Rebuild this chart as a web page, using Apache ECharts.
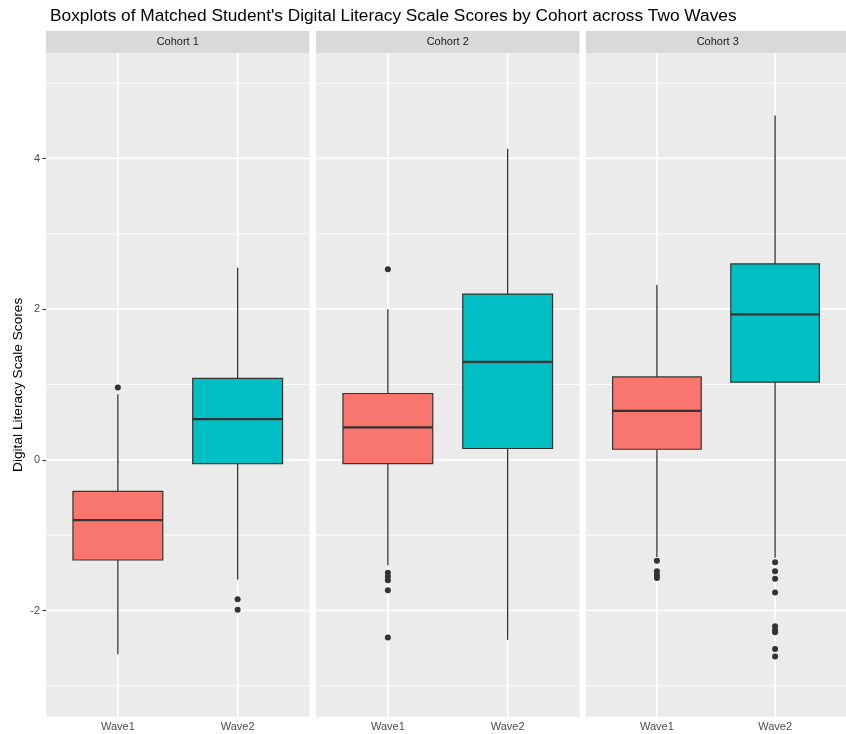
<!DOCTYPE html>
<html>
<head>
<meta charset="utf-8">
<script src="https://cdn.jsdelivr.net/npm/echarts@6/dist/echarts.min.js"></script>
<style>
  html, body { margin: 0; padding: 0; background: #ffffff; }
  #chart { width: 846px; height: 734px; }
</style>
</head>
<body>
<div id="chart"></div>
<script>
// ---- data ----
const chartTitle = "Boxplots of Matched Student's Digital Literacy Scale Scores by Cohort across Two Waves";
const yAxisTitle = 'Digital Literacy Scale Scores';
const cohorts = ['Cohort 1', 'Cohort 2', 'Cohort 3'];
const waves = ['Wave1', 'Wave2'];
const yTicks = [-2, 0, 2, 4];
const yMinorTicks = [-3, -1, 1, 3, 5];

// box summaries: [lower whisker, Q1, median, Q3, upper whisker]
const cohort1Wave1 = [-2.58, -1.33, -0.80, -0.42, 0.87];
const cohort1Wave2 = [-1.59, -0.05, 0.54, 1.08, 2.55];
const cohort2Wave1 = [-1.40, -0.05, 0.43, 0.88, 2.00];
const cohort2Wave2 = [-2.39, 0.15, 1.30, 2.20, 4.13];
const cohort3Wave1 = [-1.29, 0.14, 0.65, 1.10, 2.32];
const cohort3Wave2 = [-1.30, 1.03, 1.93, 2.60, 4.57];

// points beyond the whiskers
const cohort1Wave1Out = [0.96];
const cohort1Wave2Out = [-1.85, -1.99];
const cohort2Wave1Out = [2.53, -1.50, -1.55, -1.60, -1.73, -2.36];
const cohort2Wave2Out = [];
const cohort3Wave1Out = [-1.34, -1.48, -1.53, -1.57];
const cohort3Wave2Out = [-1.36, -1.48, -1.58, -1.76, -2.21, -2.26, -2.29, -2.51, -2.61];

const boxes = [[cohort1Wave1, cohort1Wave2], [cohort2Wave1, cohort2Wave2], [cohort3Wave1, cohort3Wave2]];
const outliers = [[cohort1Wave1Out, cohort1Wave2Out], [cohort2Wave1Out, cohort2Wave2Out], [cohort3Wave1Out, cohort3Wave2Out]];

// ---- look & layout ----
const waveColors = ['#F8766D', '#00BFC4'];
const panelLeft = [46, 316, 586];
const panelWidth = 263.5;
const panelTop = 53;
const panelHeight = 663.7;
const stripTop = 31;
const stripHeight = 22;
const yMin = -3.41, yMax = 5.40;
const xMin = 0.4, xMax = 2.6;
const boxWidth = 0.75;
const ink = '#333333';

const chart = echarts.init(document.getElementById('chart'), null, { renderer: 'canvas' });

// white panel grid: rows are [orientation (0 = horizontal, 1 = vertical), value, major?]
const gridRows = [
  ...yMinorTicks.map(v => [0, v, 0]),
  ...yTicks.map(v => [0, v, 1]),
  ...waves.map((w, i) => [1, i + 1, 1])
];

function renderGridLine(params, api) {
  const cs = params.coordSys;
  const orient = api.value(0), v = api.value(1), major = api.value(2);
  const width = major ? 1.7 : 0.9;
  if (orient === 0) {
    const y = api.coord([1, v])[1];
    return { type: 'line', shape: { x1: cs.x, y1: y, x2: cs.x + cs.width, y2: y },
      style: { stroke: '#ffffff', lineWidth: width } };
  }
  const x = api.coord([v, 0])[0];
  return { type: 'line', shape: { x1: x, y1: cs.y, x2: x, y2: cs.y + cs.height },
    style: { stroke: '#ffffff', lineWidth: width } };
}

function renderBox(params, api) {
  const x = api.value(0);
  const lo = api.coord([x, api.value(1)]);
  const q1 = api.coord([x, api.value(2)]);
  const med = api.coord([x, api.value(3)]);
  const q3 = api.coord([x, api.value(4)]);
  const hi = api.coord([x, api.value(5)]);
  const half = api.size([boxWidth, 0])[0] / 2;
  const cx = q1[0];
  return {
    type: 'group',
    children: [
      { type: 'line', shape: { x1: cx, y1: q3[1], x2: cx, y2: hi[1] }, style: { stroke: ink, lineWidth: 1.3 } },
      { type: 'line', shape: { x1: cx, y1: q1[1], x2: cx, y2: lo[1] }, style: { stroke: ink, lineWidth: 1.3 } },
      { type: 'rect', shape: { x: cx - half, y: q3[1], width: half * 2, height: q1[1] - q3[1] },
        style: { fill: api.visual('color'), stroke: ink, lineWidth: 1.2 } },
      { type: 'line', shape: { x1: cx - half, y1: med[1], x2: cx + half, y2: med[1] }, style: { stroke: ink, lineWidth: 2.3 } }
    ]
  };
}

const grids = [], xAxes = [], yAxes = [], series = [], graphics = [];

cohorts.forEach((name, ci) => {
  grids.push({
    left: panelLeft[ci], top: panelTop, width: panelWidth, height: panelHeight,
    show: true, backgroundColor: '#EBEBEB', borderWidth: 0, containLabel: false
  });
  xAxes.push({
    type: 'value', gridIndex: ci, min: xMin, max: xMax,
    axisLine: { show: false },
    axisTick: { show: true, length: 3.5, customValues: [1, 2], lineStyle: { color: ink, width: 1.1 } },
    axisLabel: {
      show: true, customValues: [1, 2], margin: 5,
      formatter: v => waves[Math.round(v) - 1] || '',
      color: '#4D4D4D', fontSize: 11, fontFamily: 'Liberation Sans'
    },
    splitLine: { show: false }
  });
  yAxes.push({
    type: 'value', gridIndex: ci, min: yMin, max: yMax,
    axisLine: { show: false },
    axisTick: { show: ci === 0, length: 3.5, customValues: yTicks, lineStyle: { color: ink, width: 1.1 } },
    axisLabel: {
      show: ci === 0, customValues: yTicks, margin: 6,
      color: '#4D4D4D', fontSize: 11, fontFamily: 'Liberation Sans'
    },
    splitLine: { show: false },
    name: ci === 0 ? yAxisTitle : '',
    nameLocation: 'middle', nameRotate: 90, nameGap: 21,
    nameTextStyle: { color: '#000000', fontSize: 13.7, fontFamily: 'Liberation Sans' }
  });

  series.push({
    type: 'custom', xAxisIndex: ci, yAxisIndex: ci, z: 1, silent: true,
    renderItem: renderGridLine, data: gridRows, clip: true
  });
  series.push({
    type: 'custom', xAxisIndex: ci, yAxisIndex: ci, z: 2, silent: true,
    renderItem: renderBox,
    data: boxes[ci].map((b, wi) => ({ value: [wi + 1, ...b], itemStyle: { color: waveColors[wi] } }))
  });
  const pts = [];
  outliers[ci].forEach((arr, wi) => arr.forEach(v => pts.push([wi + 1, v])));
  series.push({
    type: 'scatter', xAxisIndex: ci, yAxisIndex: ci, z: 3, silent: true,
    symbol: 'circle', symbolSize: 6, itemStyle: { color: ink, opacity: 1 },
    data: pts
  });

  // facet strip
  graphics.push({
    type: 'rect', left: panelLeft[ci], top: stripTop, z: 0,
    shape: { width: panelWidth, height: stripHeight },
    style: { fill: '#D9D9D9' }
  });
  graphics.push({
    type: 'text', x: panelLeft[ci] + panelWidth / 2, y: stripTop + stripHeight / 2, z: 1,
    style: {
      text: name, fill: '#1A1A1A', font: '11px "Liberation Sans"',
      align: 'center', verticalAlign: 'middle'
    }
  });
});

chart.setOption({
  animation: false,
  backgroundColor: '#ffffff',
  title: {
    text: chartTitle, left: 45, top: 3,
    textStyle: { color: '#000000', fontSize: 17.3, fontWeight: 'normal', fontFamily: 'Liberation Sans' }
  },
  grid: grids,
  xAxis: xAxes,
  yAxis: yAxes,
  series: series,
  graphic: graphics
});
</script>
</body>
</html>
